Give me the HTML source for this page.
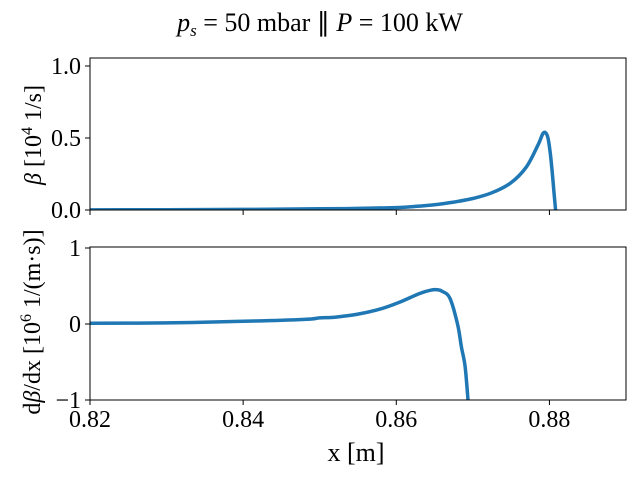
<!DOCTYPE html>
<html><head><meta charset="utf-8"><style>
body{margin:0;background:#fff}
svg text{font-family:"Liberation Serif",serif;fill:#000}
</style></head><body>
<svg width="640" height="480" viewBox="0 0 640 480">
<defs>
<clipPath id="c1"><rect x="90" y="58" width="536" height="152"/></clipPath>
<clipPath id="c2"><rect x="90" y="247" width="536" height="153"/></clipPath>
</defs>
<text x="320" y="31" text-anchor="middle" font-size="26"><tspan font-style="italic">p</tspan><tspan font-style="italic" font-size="17" dy="5">s</tspan><tspan dy="-5"> = 50 mbar ∥ </tspan><tspan font-style="italic">P</tspan><tspan> = 100 kW</tspan></text>
<g id="top"></g>
<g id="bot"></g>
<text x="356" y="461" text-anchor="middle" font-size="26">x [m]</text>
<text transform="translate(41,135) rotate(-90)" text-anchor="middle" font-size="24"><tspan font-style="italic">β</tspan> [10<tspan font-size="16" dy="-9">4</tspan><tspan dy="9"> 1/s]</tspan></text>
<text transform="translate(40,322) rotate(-90)" text-anchor="middle" font-size="24">d<tspan font-style="italic">β</tspan>/dx [10<tspan font-size="16" dy="-9">6</tspan><tspan dy="9"> 1/(m·s)]</tspan></text>
</svg>
<script>
const xTicks=[0.82,0.84,0.86,0.88];
const xTickLabels=["0.82","0.84","0.86","0.88"];
const betaTicks=[0,0.5,1.0];
const betaTickLabels=["0.0","0.5","1.0"];
const dTicks=[-1,0,1];
const dTickLabels=["−1","0","1"];
const betaX=[0.82,0.83,0.84,0.85,0.855,0.86,0.8625,0.865,0.8675,0.87,0.8725,0.875,0.877,0.8785,0.8792,0.8797,0.88,0.8803,0.8806,0.8808];
const betaY=[0.001,0.002,0.004,0.008,0.011,0.017,0.025,0.037,0.055,0.08,0.12,0.19,0.3,0.45,0.535,0.52,0.44,0.3,0.12,0];
const dX=[0.82,0.83,0.84,0.848,0.85,0.852,0.855,0.858,0.8605,0.863,0.8645,0.8654,0.866,0.867,0.868,0.8685,0.869,0.8694];
const dY=[0.01,0.015,0.035,0.06,0.08,0.09,0.13,0.2,0.29,0.4,0.445,0.45,0.43,0.34,0.0,-0.3,-0.57,-1.05];
const NS="http://www.w3.org/2000/svg";
const X0=90,X1=626,xmin=0.82,xmax=0.89;
const sx=v=>X0+(v-xmin)/(xmax-xmin)*(X1-X0);
function el(t,a,p){const e=document.createElementNS(NS,t);for(const k in a)e.setAttribute(k,a[k]);p.appendChild(e);return e;}
function smooth(p){let d="M"+p[0][0]+","+p[0][1];
 for(let i=0;i<p.length-1;i++){const a=p[Math.max(0,i-1)],b=p[i],c=p[i+1],e=p[Math.min(p.length-1,i+2)];
  const c1=[b[0]+(c[0]-a[0])/6,b[1]+(c[1]-a[1])/6],c2=[c[0]-(e[0]-b[0])/6,c[1]-(e[1]-b[1])/6];
  d+=" C"+c1.map(v=>v.toFixed(1))+" "+c2.map(v=>v.toFixed(1))+" "+c.map(v=>v.toFixed(1));}
 return d;}
function axes(g,top,bot,ymin,ymax,ticks,labels,xs,ys,clip,showX){
 const sy=v=>bot-(v-ymin)/(ymax-ymin)*(bot-top);
 const pts=xs.map((x,i)=>[sx(x),sy(ys[i])]);
 const l=el("path",{d:smooth(pts),fill:"none",stroke:"#1f77b4","stroke-width":3.5,"stroke-linejoin":"round","clip-path":"url(#"+clip+")"},g);
 
 
 const r=el("rect",{x:X0,y:top,width:X1-X0,height:bot-top,fill:"none",stroke:"#000","stroke-width":1},g);
 
 
 ticks.forEach((t,i)=>{const y=sy(t);
  el("line",{x1:X0-5,x2:X0,y1:y,y2:y,stroke:"#000"},g);
  const tx=el("text",{x:X0-9,y:y+8,"text-anchor":"end","font-size":24},g);
  tx.textContent=labels[i];
  
  });
 xTicks.forEach((t,i)=>{const x=sx(t);
  el("line",{x1:x,x2:x,y1:bot,y2:bot+5,stroke:"#000"},g);
  if(showX){const tx=el("text",{x:x,y:bot+27,"text-anchor":"middle","font-size":24},g);
  tx.textContent=xTickLabels[i];
  
  }});
}
axes(document.getElementById("top"),58,210,0,1.0556,betaTicks,betaTickLabels,betaX,betaY,"c1",false);
axes(document.getElementById("bot"),247,400,-1,1.013,dTicks,dTickLabels,dX,dY,"c2",true);
</script>
</body></html>
